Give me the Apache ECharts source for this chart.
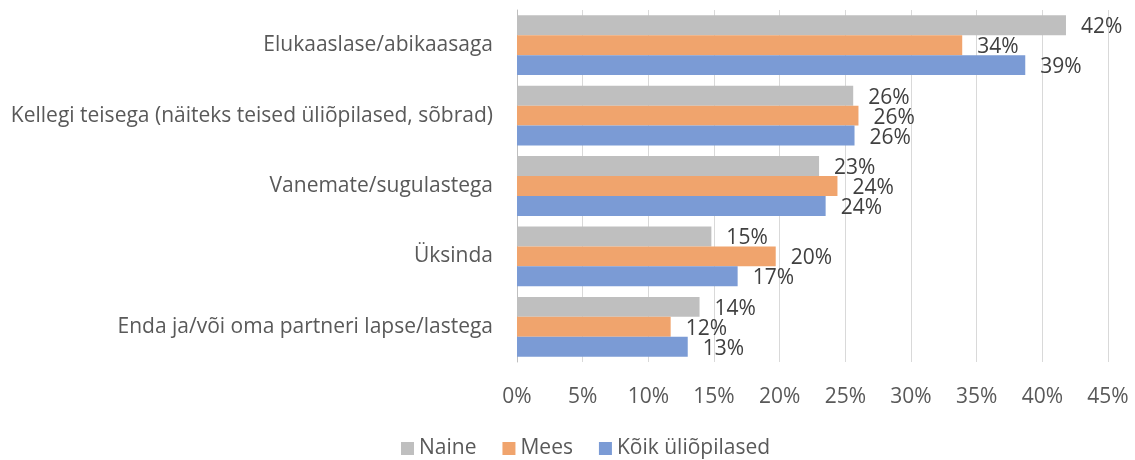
<!DOCTYPE html>
<html>
<head>
<meta charset="utf-8">
<script src="https://cdn.jsdelivr.net/npm/echarts@6/dist/echarts.min.js"></script>
<style>
  html, body { margin: 0; padding: 0; background: #fff; }
  #chart { width: 1135px; height: 460px; }
</style>
</head>
<body>
<div id="chart"></div>
<script>
// categories listed bottom to top (ECharts category y-axis starts at the bottom)
const categories = [
  "Enda ja/või oma partneri lapse/lastega",
  "Üksinda",
  "Vanemate/sugulastega",
  "Kellegi teisega (näiteks teised üliõpilased, sõbrad)",
  "Elukaaslase/abikaasaga"
];
const naine = [13.9, 14.8, 23.0, 25.6, 41.8];
const mees = [11.7, 19.7, 24.4, 26.0, 33.9];
const koik = [13.0, 16.8, 23.5, 25.7, 38.7];
const seriesNames = ["Naine", "Mees", "Kõik üliõpilased"];

const font = "'Open Sans', sans-serif";
const textColor = "#595959";

function barSeries(name, data, color) {
  return {
    name: name,
    type: "bar",
    data: data,
    barGap: "0%",
    barCategoryGap: "15%",
    itemStyle: { color: color },
    label: {
      show: true,
      position: "right",
      distance: 15,
      offset: [0, 2],
      color: "#404040",
      fontFamily: font,
      fontSize: 21,
      formatter: p => Math.round(p.value) + "%"
    }
  };
}

const chart = echarts.init(document.getElementById("chart"), null, { renderer: "canvas" });
chart.setOption({
  animation: false,
  grid: { left: 517, right: 27, top: 10, bottom: 98, containLabel: false },
  legend: {
    top: 433,
    left: 396,
    itemWidth: 13,
    itemHeight: 13,
    itemGap: 26,
    icon: "rect",
    data: seriesNames,
    textStyle: { color: textColor, fontFamily: font, fontSize: 21 }
  },
  xAxis: {
    type: "value",
    min: 0,
    max: 45,
    interval: 5,
    axisLine: { show: false },
    axisTick: { show: false },
    splitLine: { lineStyle: { color: "#D9D9D9", width: 1 } },
    axisLabel: {
      margin: 25,
      color: textColor,
      fontFamily: font,
      fontSize: 21,
      formatter: v => v + "%"
    }
  },
  yAxis: {
    type: "category",
    data: categories,
    axisLine: { show: true, lineStyle: { color: "#BFBFBF", width: 1 } },
    axisTick: { show: false },
    axisLabel: {
      margin: 24,
      color: textColor,
      fontFamily: font,
      fontSize: 21
    }
  },
  series: [
    barSeries(seriesNames[0], naine, "#BFBFBF"),
    barSeries(seriesNames[1], mees, "#F0A46D"),
    barSeries(seriesNames[2], koik, "#7B9BD5")
  ]
});
</script>
</body>
</html>
